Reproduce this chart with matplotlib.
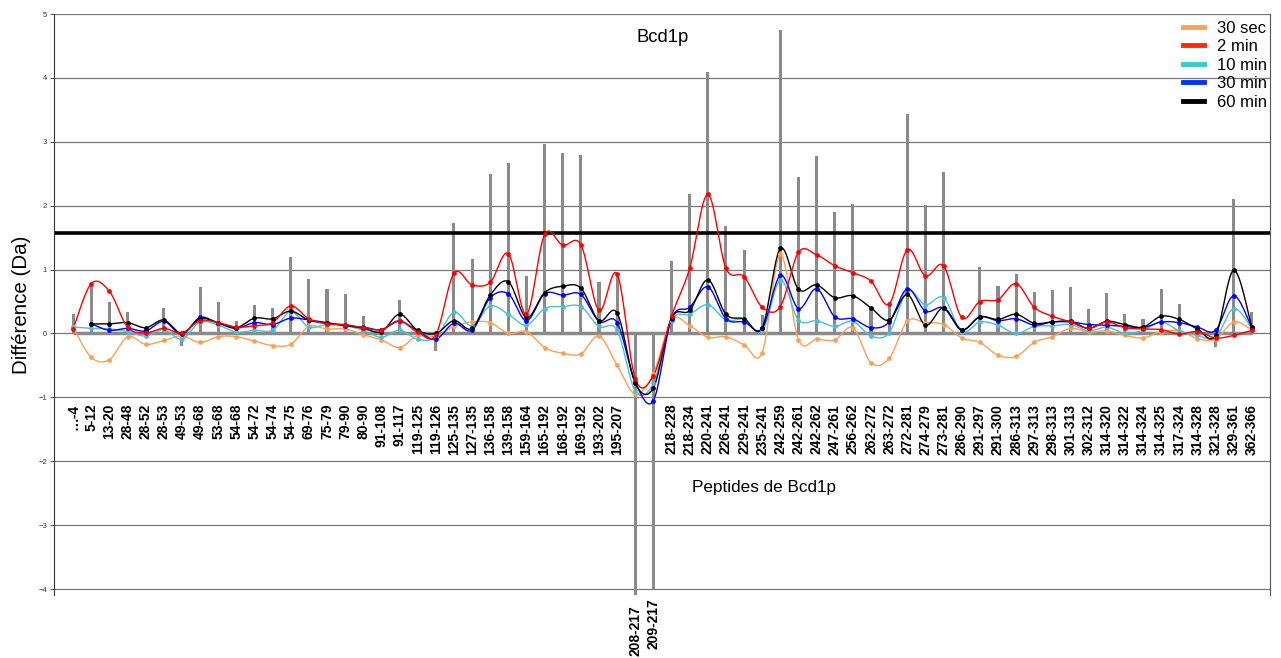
import numpy as np
import matplotlib
matplotlib.use("Agg")
import matplotlib.pyplot as plt
from matplotlib.lines import Line2D

plt.rcParams["font.family"] = "sans-serif"
plt.rcParams["font.sans-serif"] = ["Liberation Sans", "DejaVu Sans"]

nan = np.nan

peptides = ["…-4", "5-12", "13-20", "28-48", "28-52", "28-53", "49-53", "49-68", "53-68", "54-68",
            "54-72", "54-74", "54-75", "69-76", "75-79", "79-90", "80-90", "91-108", "91-117", "119-125",
            "119-126", "125-135", "127-135", "136-158", "139-158", "159-164", "165-192", "168-192", "169-192", "193-202",
            "195-207", "208-217", "209-217", "218-228", "218-234", "220-241", "226-241", "229-241", "235-241", "242-259",
            "242-261", "242-262", "247-261", "256-262", "262-272", "263-272", "272-281", "274-279", "273-281", "286-290",
            "291-297", "291-300", "286-313", "297-313", "298-313", "301-313", "302-312", "314-320", "314-322", "314-324",
            "314-325", "317-324", "314-328", "321-328", "329-361", "362-366"]

# gray bars
bars = [0.30, 0.77, 0.50, 0.33, 0.08, 0.40, -0.20, 0.72, 0.50, 0.20,
        0.45, 0.40, 1.20, 0.86, 0.69, 0.62, 0.28, 0.08, 0.52, 0.05,
        -0.27, 1.73, 1.17, 2.50, 2.67, 0.90, 2.97, 2.83, 2.80, 0.81,
        0.90, -4.10, -4.00, 1.13, 2.18, 4.10, 1.68, 1.31, 0.29, 4.75,
        2.45, 2.78, 1.90, 2.02, 0.39, 0.44, 3.43, 2.01, 2.52, 0.05,
        1.04, 0.74, 0.93, 0.65, 0.68, 0.73, 0.39, 0.63, 0.31, 0.23,
        0.70, 0.46, 0.10, -0.21, 2.10, 0.34]

sec30 = [0.10, -0.375, -0.41, -0.05, -0.17, -0.11, -0.04, -0.14, -0.05, -0.05,
         -0.12, -0.19, -0.17, 0.11, 0.07, 0.07, -0.02, -0.10, -0.22, -0.03,
         -0.04, 0.11, 0.18, 0.17, 0.00, 0.03, -0.22, -0.31, -0.32, -0.04,
         -0.50, -0.95, -0.63, 0.21, 0.12, -0.06, -0.05, -0.18, -0.30, 1.24,
         -0.10, -0.09, -0.10, 0.09, -0.46, -0.39, 0.19, 0.17, 0.14, -0.07,
         -0.14, -0.34, -0.36, -0.14, -0.05, 0.08, 0.02, 0.04, -0.03, -0.07,
         0.03, 0.04, -0.08, -0.09, 0.18, 0.06]

min2 = [0.07, 0.78, 0.66, 0.10, 0.01, 0.08, 0.01, 0.20, 0.17, 0.10,
        0.12, 0.17, 0.43, 0.23, 0.15, 0.14, 0.09, 0.06, 0.20, 0.02,
        -0.02, 0.94, 0.76, 0.80, 1.25, 0.30, 1.55, 1.38, 1.39, 0.36,
        0.93, -0.71, -0.66, 0.27, 1.02, 2.18, 1.02, 0.89, 0.41, 0.42,
        1.27, 1.23, 1.06, 0.95, 0.82, 0.46, 1.31, 0.90, 1.06, 0.25,
        0.50, 0.53, 0.78, 0.41, 0.27, 0.18, 0.08, 0.18, 0.09, 0.07,
        0.06, -0.01, 0.03, -0.07, -0.03, 0.05]

min10 = [0.10, 0.08, 0.07, 0.03, -0.04, 0.06, -0.09, 0.18, 0.13, 0.02,
         0.05, 0.05, 0.34, 0.10, 0.14, 0.12, 0.05, -0.06, 0.05, -0.09,
         -0.06, 0.33, 0.12, 0.43, 0.30, 0.13, 0.39, 0.42, 0.42, 0.11,
         0.05, -0.90, -0.78, 0.20, 0.30, 0.45, 0.21, 0.22, 0.04, 0.83,
         0.21, 0.20, 0.11, 0.19, -0.04, 0.01, 0.66, 0.45, 0.56, 0.03,
         0.18, 0.13, 0.00, 0.11, 0.12, 0.14, 0.04, 0.10, 0.00, 0.05,
         0.18, 0.04, -0.03, -0.06, 0.39, 0.08]

min30 = [nan, 0.15, 0.05, 0.08, 0.04, 0.19, -0.01, 0.25, 0.16, 0.08,
         0.17, 0.14, 0.24, 0.21, 0.17, 0.12, 0.10, 0.06, 0.19, 0.04,
         -0.09, 0.16, 0.05, 0.56, 0.62, 0.20, 0.62, 0.60, 0.61, 0.19,
         0.17, -0.76, -1.05, 0.23, 0.41, 0.73, 0.23, 0.18, 0.08, 0.91,
         0.39, 0.70, 0.26, 0.23, 0.09, 0.18, 0.70, 0.35, 0.40, 0.05,
         0.26, 0.20, 0.23, 0.13, 0.18, 0.18, 0.14, 0.13, 0.11, 0.09,
         0.18, 0.17, 0.10, 0.05, 0.59, 0.09]

min60 = [nan, 0.15, 0.15, 0.17, 0.09, 0.21, 0.00, 0.23, 0.17, 0.09,
         0.24, 0.23, 0.35, 0.21, 0.16, 0.13, 0.08, 0.03, 0.30, 0.05,
         0.00, 0.20, 0.08, 0.60, 0.81, 0.25, 0.64, 0.74, 0.71, 0.20,
         0.32, -0.78, -0.85, 0.24, 0.36, 0.84, 0.30, 0.23, 0.09, 1.33,
         0.69, 0.76, 0.56, 0.59, 0.40, 0.21, 0.61, 0.13, 0.40, 0.06,
         0.26, 0.22, 0.30, 0.16, 0.18, 0.19, 0.08, 0.19, 0.14, 0.10,
         0.27, 0.22, 0.07, -0.03, 0.99, 0.10]

threshold = 1.57


def smooth_curve(xs, ys, n=16):
    # bezier smoothing through the points (like a spreadsheet "smoothed line")
    xs = np.asarray(xs, float)
    ys = np.asarray(ys, float)
    m = len(xs)
    if m < 2:
        return xs, ys
    px, py = [], []
    t = np.linspace(0, 1, n)
    for k in range(m - 1):
        k0, k3 = max(k - 1, 0), min(k + 2, m - 1)
        p0 = np.array([xs[k0], ys[k0]])
        p1 = np.array([xs[k], ys[k]])
        p2 = np.array([xs[k + 1], ys[k + 1]])
        p3 = np.array([xs[k3], ys[k3]])
        c1 = p1 + (p2 - p0) / 6
        c2 = p2 - (p3 - p1) / 6
        seg = ((1 - t) ** 3)[:, None] * p1 + (3 * (1 - t) ** 2 * t)[:, None] * c1 \
            + (3 * (1 - t) * t ** 2)[:, None] * c2 + (t ** 3)[:, None] * p2
        px.extend(seg[:, 0])
        py.extend(seg[:, 1])
    return np.array(px), np.array(py)


x = np.arange(len(peptides))

fig = plt.figure(figsize=(12.81, 6.58), dpi=100)
ax = fig.add_axes([0.0422, 0.0951, 0.9492, 0.8836])

for yv in range(-4, 6):
    ax.axhline(yv, color="#7a7a7a", lw=0.9, zorder=0)

ax.bar(x, bars, width=0.17, color="#8a8a8a", zorder=1)
ax.hlines(0, x[0], x[-1], color="#8a8a8a", lw=2.5, zorder=1)
ax.axhline(threshold, color="black", lw=2.6, zorder=2)

series = [
    (sec30, "#ff9f55"),
    (min10, "#4dbfd3"),
    (min30, "#0000ff"),
    (min60, "#000000"),
    (min2, "#ff0000"),
]
for vals, col in series:
    v = np.asarray(vals, float)
    ok = ~np.isnan(v)
    sx, sy = smooth_curve(x[ok], v[ok])
    ax.plot(sx, sy, color=col, lw=1.0, zorder=3)
    ax.plot(x[ok], v[ok], "o", color=col, ms=2.4, zorder=4)

# category labels under the plot
for i, lab in enumerate(peptides):
    ytxt = -1.1 if bars[i] > -1 else bars[i] - 0.15
    ax.text(x[i], ytxt, lab, rotation=90, ha="center", va="top",
            fontsize=10, fontweight="bold", zorder=5)

ax.text(32.5, 4.64, "Bcd1p", ha="center", va="center", fontsize=13.3)
ax.text(38.1, -2.41, "Peptides de Bcd1p", ha="center", va="center", fontsize=12.3)

legend_order = [("30 sec", "#f9a25a"), ("2 min", "#ff2a00"), ("10 min", "#33cccc"),
                ("30 min", "#0033ff"), ("60 min", "#000000")]
handles = [Line2D([0], [0], color=c, lw=3.5) for _, c in legend_order]
ax.legend(handles, [l for l, _ in legend_order], loc="upper right",
          bbox_to_anchor=(1.0055, 1.006), frameon=False, fontsize=12,
          handlelength=1.26, handletextpad=0.78, labelspacing=0.21,
          borderaxespad=0.2)

ax.set_xlim(-1.05, len(peptides))
ax.set_ylim(-4.1, 5)
ax.set_xticks([])
ax.set_yticks(range(-4, 6))
ax.tick_params(axis="y", labelsize=5.5, length=3, width=0.6, colors="#333333", pad=2)
ax.set_ylabel("Différence (Da)", fontsize=14.8, labelpad=5)

ax.spines["top"].set_visible(False)
ax.spines["bottom"].set_visible(False)
ax.spines["left"].set_color("#333333")
ax.spines["left"].set_linewidth(0.8)
ax.spines["right"].set_color("#555555")
ax.spines["right"].set_linewidth(0.8)

fig.savefig("out.png", dpi=100)
